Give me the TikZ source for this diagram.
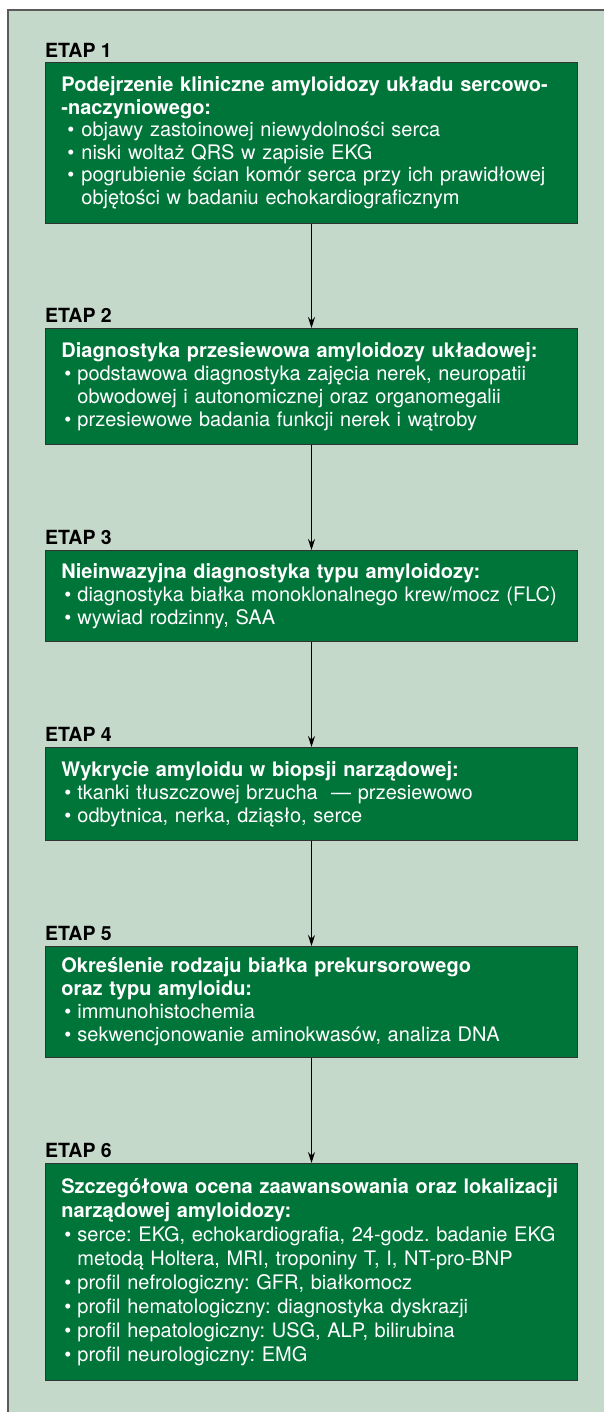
\documentclass[tikz,border=0pt]{standalone}
\usepackage{fontspec}
\setmainfont{TeX Gyre Heros}
\usetikzlibrary{arrows.meta}
\definecolor{bgc}{HTML}{C5D9CB}
\definecolor{boxg}{HTML}{00753A}
\definecolor{framec}{HTML}{5A5A5A}
\newlength{\bind}
\newlength{\bpre}
\setlength{\bind}{16pt}
\setlength{\bpre}{3pt}
\newcommand{\bitem}[1]{\par\noindent\hbox to \bind{\hspace{\bpre}\textbullet\hfill}#1}
\newcommand{\bcont}[1]{\par\noindent\hspace*{\bind}#1}
\newcommand{\btitle}[1]{\noindent{\bfseries #1}}
\tikzset{
  stepbox/.style={draw=black!80, line width=0.8pt, fill=boxg, text=white,
    anchor=north west, minimum width=532pt, text width=500pt,
    inner xsep=16pt, inner ysep=0pt, align=left,
    font=\frenchspacing\fontsize{20}{22.5}\selectfont},
  etap/.style={anchor=west, inner sep=0pt, font=\fontsize{19.5}{20}\selectfont\bfseries},
  flow/.style={line width=0.8pt, -{Stealth[length=11pt,width=7pt]}}
}
\begin{document}
\begin{tikzpicture}[x=1pt,y=-1pt]
\useasboundingbox (0,0) rectangle (603,1412);
\fill[white] (0,0) rectangle (603,1412);
\fill[bgc] (8,10) rectangle (610,1420);
\draw[framec, line width=1.5pt] (8,1420) -- (8,10) -- (610,10);

\node[etap] (e1) at (45,50) {ETAP 1};
\node[stepbox, minimum height=161pt] (b1) at (45,62) {%
\setlength{\bind}{20pt}\setlength{\bpre}{6pt}%
\btitle{Podejrzenie kliniczne amyloidozy układu sercowo-}
\par\btitle{-naczyniowego:}
\bitem{objawy zastoinowej niewydolności serca}
\bitem{niski woltaż QRS w zapisie EKG}
\bitem{pogrubienie ścian komór serca przy ich prawidłowej}
\bcont{objętości w badaniu echokardiograficznym}};

\node[etap] (e2) at (45,315) {ETAP 2};
\node[stepbox, minimum height=116pt, font=\frenchspacing\fontsize{20}{23}\selectfont] (b2) at (45,328) {%
\btitle{Diagnostyka przesiewowa amyloidozy układowej:}
\bitem{podstawowa diagnostyka zajęcia nerek, neuropatii}
\bcont{obwodowej i autonomicznej oraz organomegalii}
\bitem{przesiewowe badania funkcji nerek i wątroby}};

\node[etap] (e3) at (45,537) {ETAP 3};
\node[stepbox, minimum height=91pt, font=\frenchspacing\fontsize{20}{23}\selectfont] (b3) at (45,550) {%
\btitle{Nieinwazyjna diagnostyka typu amyloidozy:}
\bitem{diagnostyka białka monoklonalnego krew/mocz (FLC)}
\bitem{wywiad rodzinny, SAA}};

\node[etap] (e4) at (45,734) {ETAP 4};
\node[stepbox, minimum height=93pt, font=\frenchspacing\fontsize{20}{23}\selectfont] (b4) at (45,747) {%
\btitle{Wykrycie amyloidu w biopsji narządowej:}
\bitem{tkanki tłuszczowej brzucha\ \ — przesiewowo}
\bitem{odbytnica, nerka, dziąsło, serce}};

\node[etap] (e5) at (45,933) {ETAP 5};
\node[stepbox, minimum height=111pt, font=\frenchspacing\fontsize{20}{23}\selectfont] (b5) at (45,946) {%
\btitle{Określenie rodzaju białka prekursorowego}
\par\btitle{oraz typu amyloidu:}
\bitem{immunohistochemia}
\bitem{sekwencjonowanie aminokwasów, analiza DNA}};

\node[etap] (e6) at (45,1150) {ETAP 6};
\node[stepbox, minimum height=217pt, font=\frenchspacing\fontsize{20}{24}\selectfont] (b6) at (45,1163) {%
\btitle{Szczegółowa ocena zaawansowania oraz lokalizacji}
\par\btitle{narządowej amyloidozy:}
\bitem{serce: EKG, echokardiografia, 24-godz. badanie EKG}
\bcont{metodą Holtera, MRI, troponiny T, I, NT-pro-BNP}
\bitem{profil nefrologiczny: GFR, białkomocz}
\bitem{profil hematologiczny: diagnostyka dyskrazji}
\bitem{profil hepatologiczny: USG, ALP, bilirubina}
\bitem{profil neurologiczny: EMG}};

\draw[flow] (b1.south -| 311.5,0) -- (b2.north -| 311.5,0);
\draw[flow] (b2.south -| 311.5,0) -- (b3.north -| 311.5,0);
\draw[flow] (b3.south -| 311.5,0) -- (b4.north -| 311.5,0);
\draw[flow] (b4.south -| 311.5,0) -- (b5.north -| 311.5,0);
\draw[flow] (b5.south -| 311.5,0) -- (b6.north -| 311.5,0);
\end{tikzpicture}
\end{document}
